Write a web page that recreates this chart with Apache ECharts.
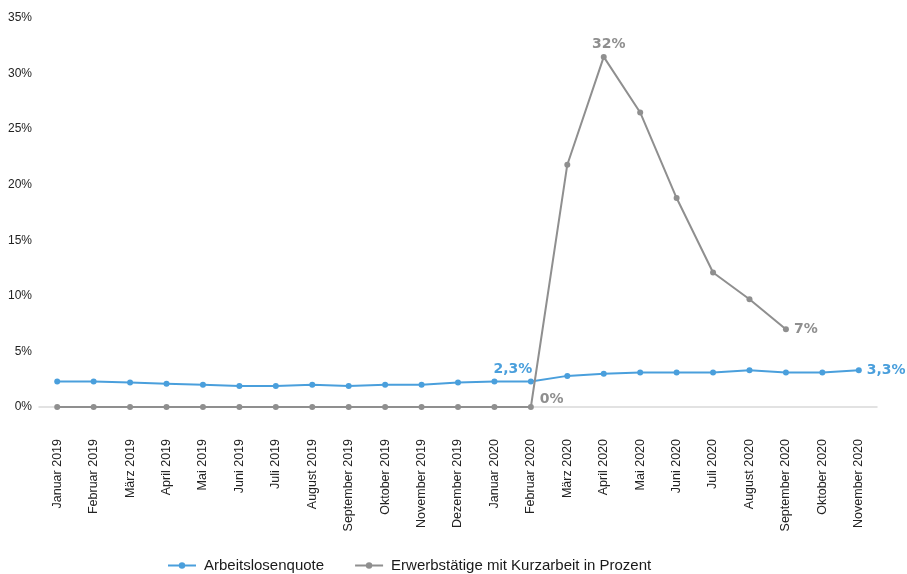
<!DOCTYPE html>
<html>
<head>
<meta charset="utf-8">
<script src="https://cdn.jsdelivr.net/npm/echarts@6/dist/echarts.min.js"></script>
<style>
  html, body { margin: 0; padding: 0; background: #fff; }
  #chart { width: 907px; height: 574px; }
</style>
</head>
<body>
<div id="chart"></div>
<script>
// Monatskategorien
const months = [
  'Januar 2019', 'Februar 2019', 'März 2019', 'April 2019', 'Mai 2019', 'Juni 2019',
  'Juli 2019', 'August 2019', 'September 2019', 'Oktober 2019', 'November 2019', 'Dezember 2019',
  'Januar 2020', 'Februar 2020', 'März 2020', 'April 2020', 'Mai 2020', 'Juni 2020',
  'Juli 2020', 'August 2020', 'September 2020', 'Oktober 2020', 'November 2020'
];

// Arbeitslosenquote in %
const unemployment = [
  2.3, 2.3, 2.2, 2.1, 2.0, 1.9, 1.9, 2.0, 1.9, 2.0, 2.0, 2.2,
  2.3, 2.3, 2.8, 3.0, 3.1, 3.1, 3.1, 3.3, 3.1, 3.1, 3.3
];

// Erwerbstätige mit Kurzarbeit in %
const shortTime = [
  0, 0, 0, 0, 0, 0, 0, 0, 0, 0, 0, 0,
  0, 0, 21.8, 31.5, 26.5, 18.8, 12.1, 9.7, 7.0, null, null
];

const seriesNames = ['Arbeitslosenquote', 'Erwerbstätige mit Kurzarbeit in Prozent'];
const yTicks = [0, 5, 10, 15, 20, 25, 30, 35];

const BLUE = '#4a9fdc';
const GREY = '#8f8f8f';
const FONT = '"Liberation Sans", Arial, Helvetica, sans-serif';
const LABEL_FONT = '"DejaVu Sans", "Liberation Sans", sans-serif';

const fmtDecimal = v => v.toFixed(1).replace('.', ',') + '%';
const fmtInt = v => Math.round(v) + '%';

// Beschriftete Punkte: Index -> Label-Stil
const blueLabels = {
  13: { position: 'top', offset: [-18, 3] },
  22: { position: 'right', offset: [0, 0] }
};
const greyLabels = {
  13: { position: 'right', offset: [1, -8] },
  15: { position: 'top', distance: 3, offset: [5, 0] },
  20: { position: 'right', offset: [0, 0] }
};

function withLabels(values, labels, color, fmt) {
  return values.map((v, i) => {
    if (v === null || !labels[i]) return v;
    return {
      value: v,
      label: Object.assign({
        show: true,
        color: color,
        fontFamily: LABEL_FONT,
        fontSize: 14,
        fontWeight: 'bold',
        formatter: p => fmt(p.value)
      }, labels[i])
    };
  });
}

const chart = echarts.init(document.getElementById('chart'), null, { renderer: 'canvas' });

chart.setOption({
  animation: false,
  backgroundColor: '#ffffff',
  textStyle: { fontFamily: FONT },
  grid: { left: 39, right: 30, top: 18, bottom: 167, containLabel: false },
  legend: {
    left: 162,
    top: 553,
    itemWidth: 28,
    itemHeight: 8,
    itemGap: 30,
    textStyle: { fontSize: 15, color: '#1a1a1a', fontFamily: FONT, padding: [0, 0, 0, 3] },
    data: seriesNames
  },
  xAxis: {
    type: 'category',
    data: months,
    boundaryGap: true,
    axisLine: { show: true, lineStyle: { color: '#d9d9d9', width: 1.5 } },
    axisTick: { show: false },
    axisLabel: {
      rotate: 90,
      interval: 0,
      margin: 32,
      fontSize: 12.5,
      color: '#222',
      fontFamily: FONT
    },
    splitLine: { show: false }
  },
  yAxis: {
    type: 'value',
    min: yTicks[0],
    max: yTicks[yTicks.length - 1],
    interval: 5,
    axisLine: { show: false },
    axisTick: { show: false },
    splitLine: { show: false },
    axisLabel: {
      fontSize: 12,
      color: '#222',
      margin: 7,
      fontFamily: FONT,
      formatter: v => v + '%'
    }
  },
  series: [
    {
      name: seriesNames[0],
      type: 'line',
      data: withLabels(unemployment, blueLabels, BLUE, fmtDecimal),
      color: BLUE,
      symbol: 'circle',
      symbolSize: 6,
      lineStyle: { width: 2, color: BLUE },
      itemStyle: { color: BLUE },
      z: 3
    },
    {
      name: seriesNames[1],
      type: 'line',
      data: withLabels(shortTime, greyLabels, GREY, fmtInt),
      color: GREY,
      symbol: 'circle',
      symbolSize: 6,
      connectNulls: false,
      lineStyle: { width: 2, color: GREY },
      itemStyle: { color: GREY },
      z: 4
    }
  ]
});
</script>
</body>
</html>
